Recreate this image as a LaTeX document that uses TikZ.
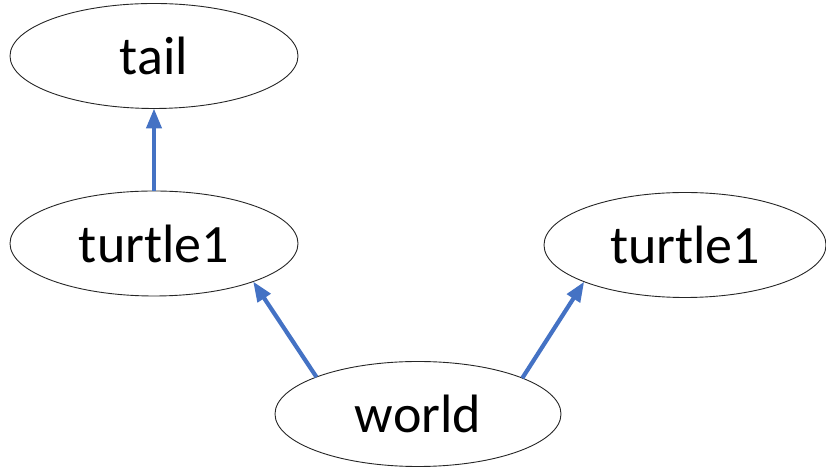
\documentclass[tikz,border=0pt]{standalone}
\usepackage{fontspec}
\setmainfont{Carlito}
\usetikzlibrary{shapes.geometric,arrows.meta}
\definecolor{linkblue}{RGB}{68,114,196}
\begin{document}
\begin{tikzpicture}[x=1pt,y=1pt,
  frame/.style={ellipse,draw=black!85,line width=0.9pt,inner sep=0pt,outer sep=0pt,
    minimum width=288pt,minimum height=105pt,font=\fontsize{54}{58}\selectfont},
  link/.style={draw=linkblue,line width=4.2pt,
    -{Triangle[length=20pt,width=15pt]}}]
  \useasboundingbox (0,0) rectangle (826,470);
  \node[frame] (tail) at (154,414) {tail};
  \node[frame] (tl) at (154,226.5) {turtle1};
  \node[frame,minimum width=282pt] (tr) at (685,225) {turtle1};
  \node[frame,minimum width=286pt] (world) at (418,56) {world};
  \draw[link] (tl.north) -- (tail.south);
  \draw[link] (world.160.4) -- (tl.339.7);
  \draw[link] (world.19.4) -- (tr.200.1);
\end{tikzpicture}
\end{document}
